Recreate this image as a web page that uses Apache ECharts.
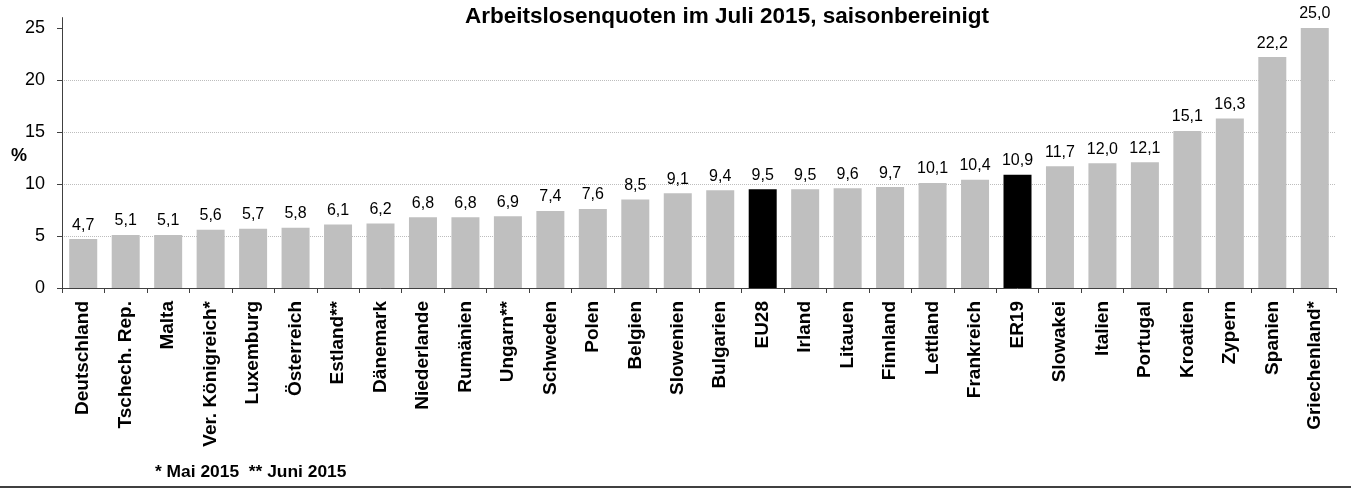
<!DOCTYPE html>
<html><head><meta charset="utf-8">
<script src="https://cdn.jsdelivr.net/npm/echarts@6/dist/echarts.min.js"></script>
<style>html,body{margin:0;padding:0;background:#fff}#c{width:1351px;height:495px}</style>
</head><body><div id="c"></div>
<script>
const categories = ["Deutschland","Tschech. Rep.","Malta","Ver. Königreich*","Luxemburg","Österreich","Estland**","Dänemark","Niederlande","Rumänien","Ungarn**","Schweden","Polen","Belgien","Slowenien","Bulgarien","EU28","Irland","Litauen","Finnland","Lettland","Frankreich","ER19","Slowakei","Italien","Portugal","Kroatien","Zypern","Spanien","Griechenland*"];
const values = [4.7,5.1,5.1,5.6,5.7,5.8,6.1,6.2,6.8,6.8,6.9,7.4,7.6,8.5,9.1,9.4,9.5,9.5,9.6,9.7,10.1,10.4,10.9,11.7,12.0,12.1,15.1,16.3,22.2,25.0];
const highlighted = ["EU28","ER19"];
const yTicks = [0,5,10,15,20,25];
const titleText = "Arbeitslosenquoten im Juli 2015, saisonbereinigt";
const footnote = "* Mai 2015  ** Juni 2015";

const FONT = "Liberation Sans, Arial, sans-serif";
const chart = echarts.init(document.getElementById('c'), null, {renderer:'canvas'});
chart.setOption({
  animation:false,
  backgroundColor:'#fff',
  title:{text:titleText, left:722, textAlign:'center', top:0,
    textStyle:{fontFamily:FONT,fontWeight:'bold',fontSize:22.5,color:'#000'}},
  grid:{left:62,right:15,top:17.6,bottom:207},
  xAxis:{type:'category',data:categories,
    axisLine:{lineStyle:{color:'#404040',width:1}},
    axisTick:{show:true,length:5,lineStyle:{color:'#404040'}},
    axisLabel:{rotate:90,interval:0,margin:13,fontFamily:FONT,fontWeight:'bold',fontSize:19,color:'#000'}},
  yAxis:{type:'value',min:0,max:26,interval:5,
    axisLine:{show:true,lineStyle:{color:'#404040',width:1}},
    axisTick:{show:true,length:5,customValues:yTicks,lineStyle:{color:'#404040'}},
    axisLabel:{customValues:yTicks,margin:17,fontFamily:FONT,fontSize:18,color:'#000'},
    splitLine:{show:true,showMaxLine:false,lineStyle:{color:'#bdbdbd',type:[1,1],width:1}}},
  series:[{type:'bar',barWidth:28,
    data:values.map((v,i)=>({value:v,itemStyle:{color:highlighted.includes(categories[i])?'#000':'#bfbfbf'}})),
    label:{show:true,position:'top',distance:6,fontFamily:FONT,fontSize:16,color:'#000',
      formatter:p=>p.value.toFixed(1).replace('.',',')}}],
  graphic:[
    {type:'text',left:11,top:147,style:{text:'%',fontFamily:FONT,fontWeight:'bold',fontSize:18,fill:'#000'}},
    {type:'text',left:155,top:464,style:{text:footnote,fontFamily:FONT,fontWeight:'bold',fontSize:17.4,fill:'#000'}},
    {type:'rect',shape:{x:0,y:486,width:1351,height:2},style:{fill:'#404040'}}
  ]
});
</script></body></html>
